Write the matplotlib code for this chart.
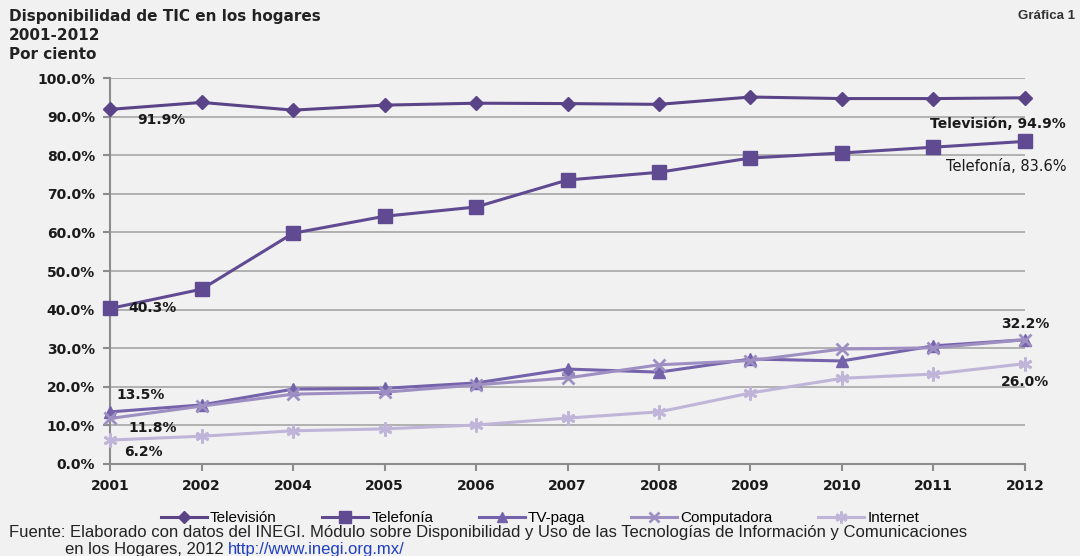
import numpy as np
import matplotlib
matplotlib.use("Agg")
from matplotlib import pyplot as plt

# categories (no 2003 in the survey)
years = ["2001", "2002", "2004", "2005", "2006", "2007", "2008", "2009", "2010", "2011", "2012"]

# series values, per cent
television = [91.9, 93.7, 91.7, 93.0, 93.5, 93.4, 93.2, 95.1, 94.7, 94.7, 94.9]
telefonia = [40.3, 45.3, 59.8, 64.2, 66.6, 73.6, 75.6, 79.3, 80.6, 82.1, 83.6]
tv_paga = [13.5, 15.3, 19.4, 19.6, 21.0, 24.6, 23.8, 27.2, 26.7, 30.6, 32.2]
computadora = [11.8, 15.0, 18.1, 18.6, 20.5, 22.3, 25.7, 26.8, 29.8, 30.1, 32.2]
internet = [6.2, 7.2, 8.6, 9.1, 10.1, 11.9, 13.5, 18.4, 22.2, 23.3, 26.0]

names = ["Televisión", "Telefonía", "TV-paga", "Computadora", "Internet"]
yticks = np.arange(0, 101, 10)

bg = "#f1f1f1"
txt = "#1a1a1a"
colors = ["#5a4487", "#604a91", "#7462aa", "#9e8fc2", "#bfb5d9"]
markers = ["D", "s", "^", "x", (6, 2, 0)]
msizes = [7, 10, 8, 8, 10]

fig = plt.figure(figsize=(10.8, 5.56), dpi=100, facecolor=bg)
ax = fig.add_axes([0.102, 0.1655, 0.847, 0.694], facecolor=bg)

x = np.arange(len(years))
series = [television, telefonia, tv_paga, computadora, internet]
for vals, name, c, m, ms in zip(series, names, colors, markers, msizes):
    ax.plot(x, vals, color=c, lw=2.2, marker=m, ms=ms, mew=2 if m in ("x", (6, 2, 0)) else 1,
            mec=c, mfc=c, label=name, clip_on=False, zorder=3)

ax.set_xlim(0, len(years) - 1)
ax.set_ylim(0, 100)
ax.set_yticks(yticks)
ax.set_yticklabels([f"{v:.1f}%" for v in yticks], fontsize=10, fontweight="bold", color=txt)
ax.set_xticks(x)
ax.set_xticklabels(years, fontsize=10, fontweight="bold", color=txt)
ax.yaxis.grid(True, color="#a6a6a6", lw=1.2)
ax.set_axisbelow(True)
for s in ["top", "right"]:
    ax.spines[s].set_visible(False)
for s in ["left", "bottom"]:
    ax.spines[s].set_color("#8c8c8c")
    ax.spines[s].set_linewidth(1.5)
ax.tick_params(axis="both", length=5, width=1.5, color="#8c8c8c", pad=6)

# data labels
lab = dict(fontsize=10, fontweight="bold", color=txt)
ax.text(0.3, 89.2, "91.9%", ha="left", va="center", **lab)
ax.text(10.45, 88.0, "Televisión, 94.9%", ha="right", va="center", **lab)
ax.text(10.45, 77.0, "Telefonía, 83.6%", ha="right", va="center", fontsize=10.5, color=txt)
ax.text(0.2, 40.3, "40.3%", ha="left", va="center", **lab)
ax.text(0.07, 18.0, "13.5%", ha="left", va="center", **lab)
ax.text(0.2, 9.4, "11.8%", ha="left", va="center", **lab)
ax.text(0.15, 3.2, "6.2%", ha="left", va="center", **lab)
ax.text(10.0, 36.2, "32.2%", ha="center", va="center", **lab)
ax.text(10.0, 21.2, "26.0%", ha="center", va="center", **lab)

# titles
fig.text(0.008, 0.983, "Disponibilidad de TIC en los hogares\n2001-2012\nPor ciento",
         ha="left", va="top", fontsize=11, fontweight="bold", family="DejaVu Sans",
         color="#222222", linespacing=1.3)
fig.text(0.995, 0.982, "Gráfica 1", ha="right", va="top", fontsize=9.5,
         fontweight="bold", family="Liberation Sans", color="#333333")

leg = fig.legend(loc="center", bbox_to_anchor=(0.5, 0.068), ncol=5, frameon=False,
                 prop={"family": "Liberation Sans", "size": 11},
                 handlelength=3.0, columnspacing=3.0, handletextpad=0.2, markerscale=0.85)

src = dict(ha="left", va="center", fontsize=12, family="Liberation Sans", color="#222222")
fig.text(0.008, 0.042, "Fuente: Elaborado con datos del INEGI. Módulo sobre Disponibilidad y Uso de las "
         "Tecnologías de Información y Comunicaciones", **src)
t2 = fig.text(0.06, 0.012, "en los Hogares, 2012 ", **src)
fig.canvas.draw()
bb = t2.get_window_extent().transformed(fig.transFigure.inverted())
src["color"] = "#1f3fbf"
fig.text(bb.x1, 0.012, "http://www.inegi.org.mx/", **src)

fig.savefig("out.png", dpi=100, facecolor=bg)
